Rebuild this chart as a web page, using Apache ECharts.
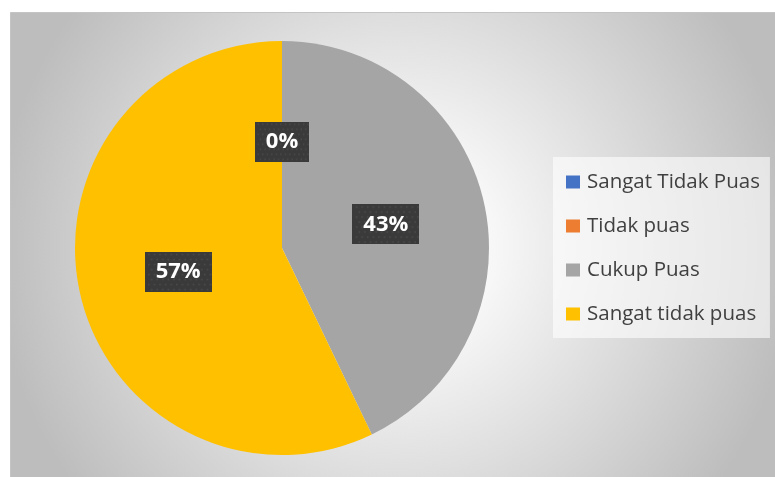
<!DOCTYPE html>
<html>
<head>
<meta charset="utf-8">
<script src="https://cdn.jsdelivr.net/npm/echarts@6/dist/echarts.min.js"></script>
<style>
  html, body { margin: 0; padding: 0; background: #fff; }
  #chart { width: 775px; height: 477px; }
</style>
</head>
<body>
<div id="chart"></div>
<script>
// kategori dan nilai (persen dihitung oleh echarts)
var categories = ['Sangat Tidak Puas', 'Tidak puas', 'Cukup Puas', 'Sangat tidak puas'];
var values = [0, 0, 3, 4];
var colors = ['#4472C4', '#ED7D31', '#A5A5A5', '#FFC000'];

// pola titik untuk kotak label
var pat = document.createElement('canvas');
pat.width = 60; pat.height = 40;
var g = pat.getContext('2d');
g.fillStyle = '#3a3a3a';
g.fillRect(0, 0, 60, 40);
g.fillStyle = '#4c4c4c';
for (var yy = 2; yy < 40; yy += 5) {
  for (var xx = 2 + ((yy / 5) % 2) * 2.5; xx < 60; xx += 5) {
    g.fillRect(xx, yy, 1.5, 1.5);
  }
}

var myChart = echarts.init(document.getElementById('chart'));

var option = {
  animation: false,
  color: colors,
  graphic: [{
    type: 'rect',
    z: -10,
    silent: true,
    shape: { x: 10.5, y: 12.5, width: 770, height: 470 },
    style: {
      fill: {
        type: 'radial', x: 0.5, y: 0.5, r: 0.85,
        colorStops: [
          { offset: 0, color: '#ffffff' },
          { offset: 0.25, color: '#f7f7f7' },
          { offset: 1, color: '#bdbdbd' }
        ]
      },
      stroke: '#c4c4c4',
      lineWidth: 1
    }
  }],
  legend: {
    orient: 'vertical',
    left: 553,
    top: 157,
    padding: [14, 10, 13, 13],
    backgroundColor: 'rgba(255,255,255,0.6)',
    itemWidth: 14,
    itemHeight: 13,
    itemGap: 22,
    icon: 'rect',
    textStyle: {
      fontFamily: 'Open Sans',
      fontSize: 20.5,
      color: '#404040',
      lineHeight: 22,
      padding: [0, 0, 0, 2]
    },
    data: categories
  },
  series: [
    {
      name: 'Kepuasan',
      type: 'pie',
      center: [282, 248],
      radius: [0, 207],
      startAngle: 90,
      clockwise: true,
      percentPrecision: 0,
      avoidLabelOverlap: false,
      label: {
        show: true,
        position: 'inside',
        formatter: '{d}%',
        fontFamily: 'Open Sans',
        fontWeight: 'bold',
        fontSize: 22,
        lineHeight: 26,
        color: '#ffffff',
        backgroundColor: { image: pat },
        padding: [7, 11, 7, 11],
        shadowColor: 'rgba(0,0,0,0.45)',
        shadowBlur: 5,
        shadowOffsetX: 3,
        shadowOffsetY: 3
      },
      labelLine: { show: false },
      emphasis: { disabled: true },
      data: categories.map(function (c, i) {
        return { name: c, value: values[i] };
      })
    }
  ]
};

myChart.setOption(option);
</script>
</body>
</html>
